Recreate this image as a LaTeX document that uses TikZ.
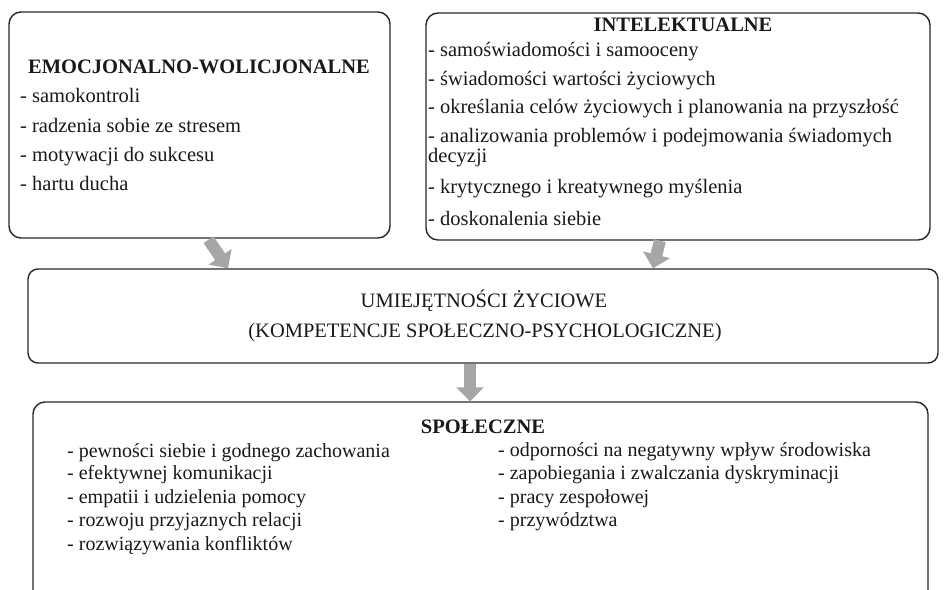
\documentclass[tikz,border=0pt]{standalone}
\usepackage{fontspec}
\setmainfont{Liberation Serif}
\usetikzlibrary{arrows.meta}
\definecolor{boxline}{RGB}{40,40,40}
\definecolor{arrowgray}{RGB}{166,166,166}
\definecolor{txt}{RGB}{25,25,25}
\tikzset{
  panel/.style={draw=boxline, line width=1.4pt, rounded corners=12pt, inner sep=0pt},
  item/.style={anchor=west, inner sep=0pt, text height=14pt, text depth=4pt, text=txt, font=\fontsize{20.5}{24}\selectfont},
  sitem/.style={anchor=west, inner sep=0pt, text height=14pt, text depth=4pt, text=txt, font=\fontsize{20}{24}\selectfont},
  title/.style={inner sep=0pt, text height=14pt, text depth=4pt, text=txt, font=\fontsize{20.5}{24}\selectfont\bfseries},
  ctext/.style={inner sep=0pt, text height=14pt, text depth=4pt, text=txt, font=\fontsize{20.5}{24}\selectfont},
  bigarrow/.style={draw=arrowgray, line width=12pt, -{Triangle[length=14pt,width=27pt]}, fill=arrowgray},
}
\begin{document}
\begin{tikzpicture}[x=1pt,y=-1pt]
\useasboundingbox (0,0) rectangle (945,589);
\begin{scope}
\clip (0,0) rectangle (945,589);
% boxes
\node[panel, minimum width=381pt, minimum height=226pt] (emo) at (199.5,125) {};
\node[panel, minimum width=504pt, minimum height=227pt] (int) at (678,126.5) {};
\node[panel, rounded corners=10pt, minimum width=910pt, minimum height=94pt] (mid) at (483,316) {};
\node[panel, minimum width=895pt, minimum height=210pt] (soc) at (480.5,507) {};

% emocjonalno-wolicjonalne
\node[title] (emot) at (199,68) {EMOCJONALNO-WOLICJONALNE};
\node[item] (e1) at (20,97) {- samokontroli};
\node[item] (e2) at (20,127) {- radzenia sobie ze stresem};
\node[item] (e3) at (20,156) {- motywacji do sukcesu};
\node[item] (e4) at (20,185) {- hartu ducha};

% intelektualne
\node[title] (intt) at (683,26) {INTELEKTUALNE};
\node[item] (i1) at (428,51) {- samoświadomości i samooceny};
\node[item] (i2) at (428,80) {- świadomości wartości życiowych};
\node[item] (i3) at (428,108) {- określania celów życiowych i planowania na przyszłość};
\node[item] (i4) at (428,137) {- analizowania problemów i podejmowania świadomych};
\node[item] (i4b) at (428,157) {decyzji};
\node[item] (i5) at (428,188) {- krytycznego i kreatywnego myślenia};
\node[item] (i6) at (428,220) {- doskonalenia siebie};

% middle
\node[ctext] (m1) at (484,302) {UMIEJĘTNOŚCI ŻYCIOWE};
\node[ctext] (m2) at (485,332) {(KOMPETENCJE SPOŁECZNO-PSYCHOLOGICZNE)};

% społeczne
\node[title] (soct) at (483,428) {SPOŁECZNE};
\node[sitem] (s1) at (67,452) {- pewności siebie i godnego zachowania};
\node[sitem] (s2) at (67,474) {- efektywnej komunikacji};
\node[sitem] (s3) at (67,498) {- empatii i udzielenia pomocy};
\node[sitem] (s4) at (67,521) {- rozwoju przyjaznych relacji};
\node[sitem] (s5) at (67,545) {- rozwiązywania konfliktów};
\node[sitem] (s6) at (498,451) {- odporności na negatywny wpływ środowiska};
\node[sitem] (s7) at (498,474) {- zapobiegania i zwalczania dyskryminacji};
\node[sitem] (s8) at (498,498) {- pracy zespołowej};
\node[sitem] (s9) at (498,521) {- przywództwa};
\end{scope}

% arrows
\draw[bigarrow] ([xshift=9pt,yshift=-1pt]emo.south) -- ([xshift=-255pt]mid.north);
\draw[bigarrow] ([xshift=-18pt]int.south) -- ([xshift=170pt]mid.north);
\draw[bigarrow] ([xshift=-13pt]mid.south) -- ([xshift=-10.5pt]soc.north);
\end{tikzpicture}
\end{document}
